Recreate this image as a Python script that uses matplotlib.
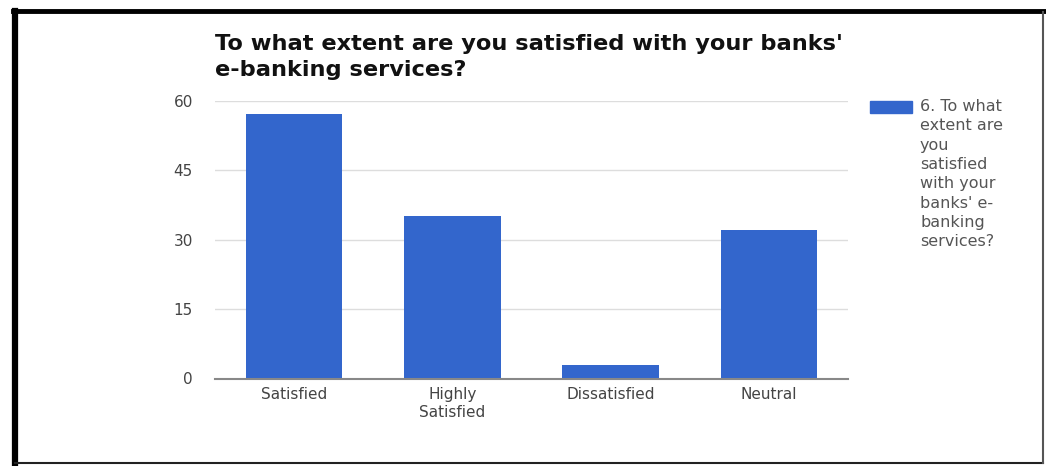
import matplotlib
matplotlib.use("Agg")
import matplotlib.pyplot as plt
from matplotlib.lines import Line2D
from matplotlib.patches import Rectangle

categories = ["Satisfied", "Highly\nSatisfied", "Dissatisfied", "Neutral"]
counts = [57, 35, 3, 32]
yticks = [0, 15, 30, 45, 60]
title = "To what extent are you satisfied with your banks'\ne-banking services?"
legend_label = "6. To what\nextent are\nyou\nsatisfied\nwith your\nbanks' e-\nbanking\nservices?"

bar_color = "#3366cc"
text_gray = "#444444"

# the screenshot text is wide, DejaVu Sans matches it better than Arial
plt.rcParams["font.family"] = ["DejaVu Sans"]

fig = plt.figure(figsize=(10.46, 4.66), dpi=100)
ax = fig.add_axes([215 / 1046, 1 - 378.5 / 466, 633 / 1046, 278 / 466])

x = range(len(categories))
ax.bar(x, counts, width=0.61, color=bar_color, zorder=3)
ax.set_xlim(-0.5, len(categories) - 0.5)
ax.set_ylim(0, 60)
ax.set_yticks(yticks)
ax.set_xticks(list(x))
ax.set_xticklabels(categories, fontsize=11, color=text_gray, linespacing=1.25)
ax.tick_params(axis="y", length=0, pad=16, labelsize=11, labelcolor=text_gray)
ax.tick_params(axis="x", length=0, pad=6)
ax.grid(axis="y", color="#dddddd", linewidth=1, zorder=0)
for s in ["top", "right", "left"]:
    ax.spines[s].set_visible(False)
ax.spines["bottom"].set_color("#888888")
ax.spines["bottom"].set_linewidth(1.5)
ax.spines["bottom"].set_zorder(4)

# title
fig.text(215 / 1046, 1 - 34 / 466, title, fontsize=16.2, fontweight="bold",
         color="#111111", ha="left", va="top", linespacing=1.38)

# legend (swatch + wrapped label)
fig.patches.append(Rectangle((870 / 1046, 1 - 113 / 466), 42 / 1046, 12 / 466,
                             transform=fig.transFigure, color=bar_color, figure=fig))
fig.text(920 / 1046, 1 - 99 / 466, legend_label, fontsize=11.5, color="#555555",
         ha="left", va="top", linespacing=1.36)

# black frame around the screenshot
fig.add_artist(Line2D([15 / 1046, 15 / 1046], [1 - 11 / 466, 1 - 463 / 466],
                      color="black", linewidth=4.5, transform=fig.transFigure))
fig.add_artist(Line2D([13 / 1046, 1], [1 - 11 / 466, 1 - 11 / 466],
                      color="black", linewidth=3.5, transform=fig.transFigure))
fig.add_artist(Line2D([15 / 1046, 1043 / 1046], [1 - 463 / 466, 1 - 463 / 466],
                      color="#222222", linewidth=1.5, transform=fig.transFigure))
fig.add_artist(Line2D([1043 / 1046, 1043 / 1046], [1 - 12 / 466, 1 - 463 / 466],
                      color="#555555", linewidth=1.5, transform=fig.transFigure))

fig.savefig("out.png", dpi=100)
